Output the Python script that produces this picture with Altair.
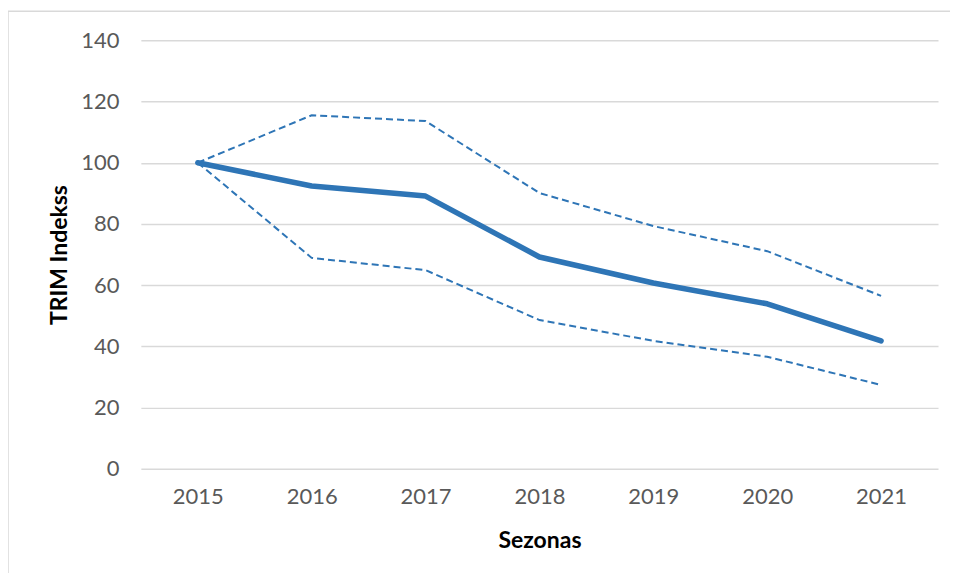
import altair as alt
import pandas as pd

years = ["2015", "2016", "2017", "2018", "2019", "2020", "2021"]
index_vals = [100, 92.4, 89.1, 69.2, 60.7, 53.9, 41.8]
upper_vals = [100, 115.5, 113.6, 90.1, 79.3, 71.1, 56.5]
lower_vals = [100, 68.9, 64.9, 48.6, 41.8, 36.6, 27.4]

main_df = pd.DataFrame({"Sezonas": years, "v": index_vals})
bounds_df = pd.DataFrame({
    "Sezonas": years * 2,
    "v": upper_vals + lower_vals,
    "b": ["upper"] * len(years) + ["lower"] * len(years),
})

FONT = "Lato"
COLOR = "#2e75b6"

x_enc = alt.X("Sezonas:N", sort=years,
              scale=alt.Scale(paddingInner=0, paddingOuter=0, domain=years),
              axis=alt.Axis(title="Sezonas", labelAngle=0, labelPadding=18,
                            titlePadding=22, grid=False, ticks=False, domain=False))
y_enc = alt.Y("v:Q", scale=alt.Scale(domain=[0, 140], nice=False),
              axis=alt.Axis(title="TRIM Indekss", values=[0, 20, 40, 60, 80, 100, 120, 140],
                            labelPadding=22, titlePadding=9, ticks=False, domain=False,
                            grid=True))

border = alt.Chart(pd.DataFrame({"a": [0]})).mark_rect(
    fill=None, stroke="#d9d9d9", strokeWidth=1.5
).encode(x=alt.value(-133), x2=alt.value(900), y=alt.value(-29), y2=alt.value(700))

bounds = alt.Chart(bounds_df).mark_line(
    color=COLOR, strokeWidth=2, strokeDash=[7, 4]
).encode(x=x_enc, y=y_enc, detail="b:N")

main = alt.Chart(main_df).mark_line(
    color=COLOR, strokeWidth=5.5, strokeCap="round", strokeJoin="round"
).encode(x=x_enc, y=y_enc)

chart = alt.layer(border, bounds, main).properties(
    width=798, height=429,
    autosize=alt.AutoSizeParams(type="none"),
    padding={"left": 133, "top": 32, "right": 12, "bottom": 104},
).configure_view(stroke=None).configure_axis(
    labelFont=FONT, labelFontSize=22, labelColor="#595959",
    titleFont=FONT, titleFontSize=23, titleColor="#000000", titleFontWeight="bold",
    gridColor="#d9d9d9", gridWidth=1.5,
)

chart.save("out.html", embed_options={"renderer": "svg", "actions": False})
